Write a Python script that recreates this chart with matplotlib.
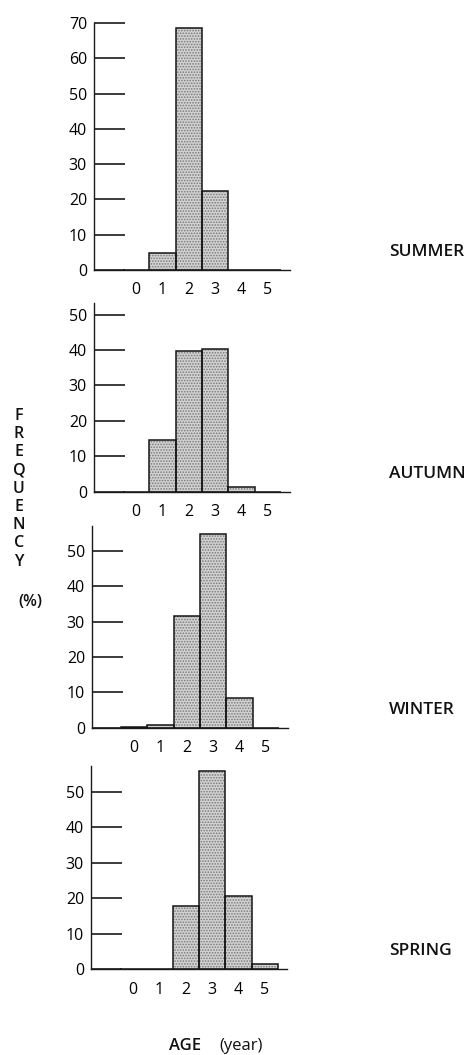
import matplotlib
matplotlib.use("Agg")
import matplotlib.pyplot as plt

plt.rcParams['font.family'] = ['Open Sans', 'DejaVu Sans']
plt.rcParams['hatch.linewidth'] = 0.8

ages = [0, 1, 2, 3, 4, 5]
seasons = ["SUMMER", "AUTUMN", "WINTER", "SPRING"]
summer = [0.0, 4.7, 68.5, 22.3, 0.0, 0.0]
autumn = [0.0, 14.6, 39.8, 40.2, 1.4, 0.0]
winter = [0.3, 0.8, 31.5, 54.6, 8.5, 0.0]
spring = [0.0, 0.0, 17.8, 55.8, 20.7, 1.6]
series = [summer, autumn, winter, spring]
y_ticks = [[0, 10, 20, 30, 40, 50, 60, 70],
           [0, 10, 20, 30, 40, 50],
           [0, 10, 20, 30, 40, 50],
           [0, 10, 20, 30, 40, 50]]
y_tops = [70, 53.3, 57.0, 57.2]

W, H = 471, 1055
fig = plt.figure(figsize=(W / 100, H / 100), dpi=100)

# panel boxes in pixels: left spine x, right end x, top y, zero-line y
boxes = [(94, 290, 23, 270),
         (94, 290, 303, 491.7),
         (92, 288, 526, 727.7),
         (91, 287, 766, 969.3)]

for vals, ticks, top, (x0, x1, yt, yb), name in zip(series, y_ticks, y_tops, boxes, seasons):
    ax = fig.add_axes([x0 / W, 1 - yb / H, (x1 - x0) / W, (yb - yt) / H])
    # stippled fill, then crisp outlines on top
    ax.bar(ages, vals, width=1.0, color='#d2d2d2', edgecolor='#7a7a7a',
           hatch='......', linewidth=0, zorder=2)
    ax.bar(ages, vals, width=1.0, fill=False, edgecolor='#151515',
           linewidth=1.1, zorder=3)
    ax.set_xlim(-1.6, 5.84)
    ax.set_ylim(0, top)
    ax.spines['top'].set_visible(False)
    ax.spines['right'].set_visible(False)
    for s in ('left', 'bottom'):
        ax.spines[s].set_linewidth(1.0)
        ax.spines[s].set_color('#1a1a1a')
    ax.set_yticks(ticks)
    ax.set_xticks(ages)
    ax.tick_params(axis='y', direction='in', length=22, width=1.2,
                   color='#1a1a1a', labelsize=11.5, pad=5)
    ax.tick_params(axis='x', length=0, labelsize=11.5, pad=9)
    ax.patch.set_alpha(0)
    fig.text(389 / W, 1 - (yb - 18) / H, name, fontsize=12.5,
             fontweight='semibold', ha='left', va='center', color='#111111')

# vertical axis caption, one letter per line
word = "FREQUENCY"
for i, ch in enumerate(word):
    fig.text(19 / W, 1 - (416 + i * 18.2) / H, ch, fontsize=11.5,
             fontweight='semibold', ha='center', va='center', color='#111111')
fig.text(30 / W, 1 - 602 / H, "(%)", fontsize=11.5, fontweight='semibold',
         ha='center', va='center', color='#111111')

fig.text(185 / W, 1 - 1046 / H, "AGE", fontsize=12, fontweight='semibold',
         ha='center', va='center', color='#111111')
fig.text(241 / W, 1 - 1046 / H, "(year)", fontsize=12,
         ha='center', va='center', color='#111111')

fig.savefig("out.png", dpi=100, facecolor='white')
